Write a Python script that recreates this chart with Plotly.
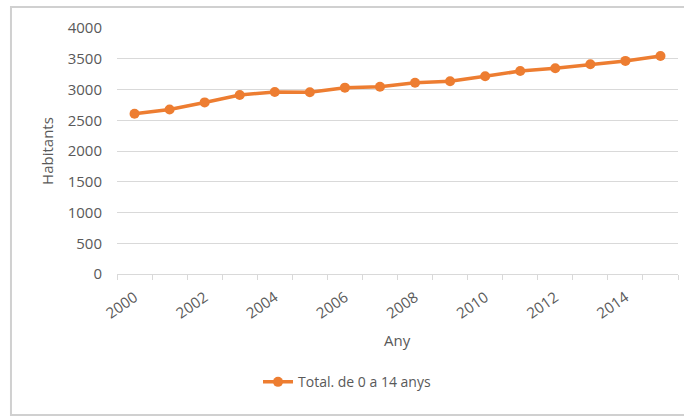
import plotly.graph_objects as go

# Population aged 0-14, yearly totals
years = list(range(2000, 2016))
habitants = [2605, 2675, 2790, 2910, 2960, 2955, 3030, 3045,
             3110, 3135, 3215, 3300, 3345, 3410, 3465, 3545]
series_name = "Total. de 0 a 14 anys"
x_labels = [str(y) for y in range(2000, 2016, 2)]
y_ticks = list(range(0, 4001, 500))

ORANGE = "#ED7D31"
GRID = "#d9d9d9"
TXT = "#595959"
FONT = "Open Sans, Noto Sans, sans-serif"

fig = go.Figure()
fig.add_trace(go.Scatter(
    x=years, y=habitants, name=series_name, mode="lines+markers",
    line=dict(color=ORANGE, width=3.5),
    marker=dict(color=ORANGE, size=10),
))

fig.update_layout(
    width=684, height=418,
    margin=dict(l=117, r=6, t=28, b=144),
    paper_bgcolor="white", plot_bgcolor="white",
    font=dict(family=FONT, size=14, color=TXT),
    showlegend=True,
    legend=dict(orientation="h", x=0.41, y=-0.44, xanchor="center",
                yanchor="middle", font=dict(size=14, color=TXT)),
    xaxis=dict(
        range=[1999.5, 2015.5], tickmode="array",
        tickvals=[int(v) for v in x_labels], ticktext=x_labels,
        tickangle=-35, ticks="", showgrid=False, zeroline=False,
        showline=True, linecolor=GRID, linewidth=1,
        tickfont=dict(size=15, color=TXT), ticklabelstandoff=8,
        minor=dict(tick0=1999.5, dtick=1, ticks="outside", ticklen=5,
                   tickcolor=GRID, showgrid=False),
    ),
    yaxis=dict(
        range=[0, 4000], tickvals=y_ticks, showgrid=True, gridcolor=GRID,
        gridwidth=1, zeroline=False, showline=False, ticks="",
        tickfont=dict(size=15, color=TXT), ticklabelstandoff=14,
    ),
    annotations=[
        dict(text="Any", xref="paper", yref="paper", x=0.5, y=-0.268,
             showarrow=False, font=dict(size=15, color=TXT),
             xanchor="center", yanchor="middle"),
        dict(text="Habitants", xref="paper", yref="paper", x=-0.125,
             y=0.5, textangle=-90, showarrow=False,
             font=dict(size=15, color=TXT), xanchor="center",
             yanchor="middle"),
    ],
    shapes=[
        dict(type="rect", xref="paper", yref="paper",
             x0=-0.189, x1=1.08, y0=-0.573, y1=1.085,
             line=dict(color="#d0d0d0", width=2), layer="below"),
    ],
)

fig.write_html("out.html")
